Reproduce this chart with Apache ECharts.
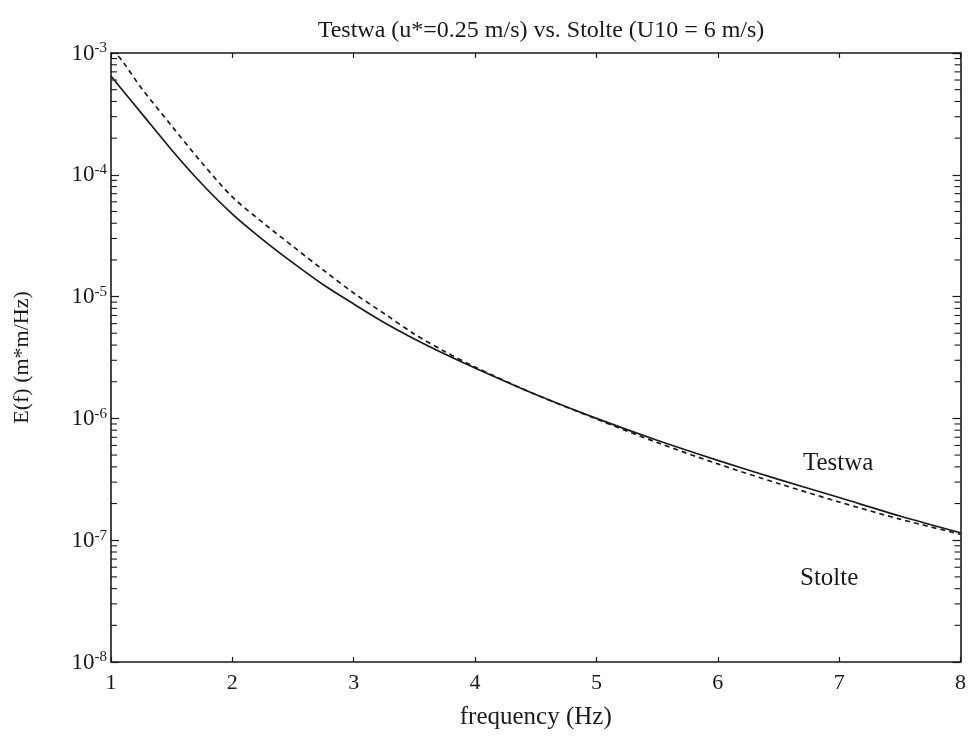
<!DOCTYPE html>
<html>
<head>
<meta charset="utf-8">
<script src="https://cdn.jsdelivr.net/npm/echarts@6/dist/echarts.min.js"></script>
<style>
html,body{margin:0;padding:0;background:#fff;}
#chart{width:969px;height:744px;}
</style>
</head>
<body>
<div id="chart"></div>
<script>
// Frequencies (Hz) for each curve
var testwaFreq = [1.0, 1.1, 1.25, 1.5, 1.75, 2.0, 2.25, 2.5, 2.75, 3.0, 3.25, 3.5, 3.75, 4.0, 4.5, 5.0, 5.5, 6.0, 6.5, 7.0, 7.5, 8.0];
var stolteFreq = [1.06, 1.1, 1.25, 1.5, 1.75, 2.0, 2.25, 2.5, 2.75, 3.0, 3.25, 3.5, 3.75, 4.0, 4.5, 5.0, 5.5, 6.0, 6.5, 7.0, 7.5, 8.0];
// Testwa (solid), E(f) m*m/Hz
var testwa = [6.47e-4, 4.88e-4, 3.21e-4, 1.60e-4, 8.4e-5, 4.76e-5, 2.94e-5, 1.89e-5, 1.25e-5, 8.69e-6, 6.13e-6, 4.49e-6, 3.38e-6, 2.59e-6, 1.57e-6, 1.0e-6, 6.61e-7, 4.52e-7, 3.16e-7, 2.24e-7, 1.58e-7, 1.15e-7];
// Stolte (dashed)
var stolte = [9.45e-4, 8.44e-4, 5.16e-4, 2.52e-4, 1.25e-4, 6.58e-5, 4.06e-5, 2.58e-5, 1.65e-5, 1.07e-5, 7.27e-6, 4.93e-6, 3.54e-6, 2.64e-6, 1.57e-6, 9.89e-7, 6.34e-7, 4.23e-7, 2.92e-7, 2.06e-7, 1.49e-7, 1.12e-7];
// Axis ranges
var xMin = 1, xMax = 8;
var yMin = 1e-8, yMax = 1e-3;
// Log minor tick values
var minorTicks = [];
for (var n = -8; n <= -4; n++) { for (var k = 2; k <= 9; k++) { minorTicks.push(k * Math.pow(10, n)); } }

var FONT = '"Liberation Serif", "DejaVu Serif", serif';
var INK = '#1a1a1a';

function pair(xs, ys){ return xs.map(function(x,i){ return [x, ys[i]]; }); }

var chart = echarts.init(document.getElementById('chart'), null, {renderer:'canvas'});
var option = {
  backgroundColor:'#fff',
  animation:false,
  title:{
    text:'Testwa (u*=0.25 m/s) vs. Stolte (U10 = 6 m/s)',
    left:536, top:14, textAlign:'center',
    textStyle:{fontFamily:FONT, fontSize:24, fontWeight:'normal', color:INK}
  },
  grid:{left:111, right:5, top:53, bottom:82},
  xAxis:[{
    type:'value', min:xMin, max:xMax, interval:1,
    name:'frequency (Hz)', nameLocation:'middle', nameGap:43,
    nameTextStyle:{fontFamily:FONT, fontSize:25, color:INK},
    axisLine:{show:true, lineStyle:{color:INK, width:1.6}},
    axisTick:{show:true, inside:true, length:5, lineStyle:{color:INK, width:1.2}},
    axisLabel:{fontFamily:FONT, fontSize:22, color:INK, margin:10},
    splitLine:{show:false}
  },{
    type:'value', min:xMin, max:xMax, interval:1, position:'top',
    axisLine:{show:true, lineStyle:{color:INK, width:1.6}},
    axisTick:{show:true, inside:true, length:5, lineStyle:{color:INK, width:1.2}},
    axisLabel:{show:false}, splitLine:{show:false}
  }],
  yAxis:[{
    type:'log', logBase:10, min:yMin, max:yMax,
    name:'E(f) (m*m/Hz)', nameLocation:'middle', nameGap:78, nameRotate:90,
    nameTextStyle:{fontFamily:FONT, fontSize:22, color:INK},
    axisLine:{show:true, lineStyle:{color:INK, width:1.6}},
    axisTick:{show:true, inside:true, length:8, lineStyle:{color:INK, width:1.2}},
    axisLabel:{
      margin:4,
      formatter:function(v){ var e = Math.round(Math.log10(v)); return '{b|10}{s|' + e + '}'; },
      rich:{
        b:{fontFamily:FONT, fontSize:23, color:INK, verticalAlign:'bottom', lineHeight:24},
        s:{fontFamily:FONT, fontSize:15, color:INK, verticalAlign:'top', padding:[0,0,10,0], lineHeight:24}
      }
    },
    splitLine:{show:false}
  },{
    type:'log', logBase:10, min:yMin, max:yMax, position:'right',
    axisLine:{show:true, lineStyle:{color:INK, width:1.6}},
    axisTick:{show:true, inside:true, length:8, lineStyle:{color:INK, width:1.2}},
    axisLabel:{show:false}, splitLine:{show:false}
  }],
  series:[{
    name:'Testwa', type:'line', xAxisIndex:0, yAxisIndex:0,
    data:pair(testwaFreq, testwa), smooth:0.3, showSymbol:false,
    lineStyle:{color:INK, width:1.7, type:'solid'}
  },{
    name:'Stolte', type:'line', xAxisIndex:0, yAxisIndex:0,
    data:pair(stolteFreq, stolte), smooth:0.3, showSymbol:false,
    lineStyle:{color:INK, width:1.7, type:[5,4]}
  },{
    name:'minorTicks', type:'custom', xAxisIndex:0, yAxisIndex:0,
    data:minorTicks.map(function(v){ return [xMin, v]; }),
    silent:true,
    renderItem:function(params, api){
      var v = api.value(1);
      var l = api.coord([xMin, v]);
      var r = api.coord([xMax, v]);
      var st = {stroke:INK, lineWidth:1.1};
      return {type:'group', children:[
        {type:'line', shape:{x1:l[0], y1:l[1], x2:l[0]+6, y2:l[1]}, style:st},
        {type:'line', shape:{x1:r[0]-6, y1:r[1], x2:r[0], y2:r[1]}, style:st}
      ]};
    }
  }],
  graphic:[
    {type:'text', left:803, top:451, style:{text:'Testwa', font:'25px ' + FONT, fill:INK}},
    {type:'text', left:800, top:566, style:{text:'Stolte', font:'25px ' + FONT, fill:INK}}
  ]
};
chart.setOption(option);
</script>
</body>
</html>
